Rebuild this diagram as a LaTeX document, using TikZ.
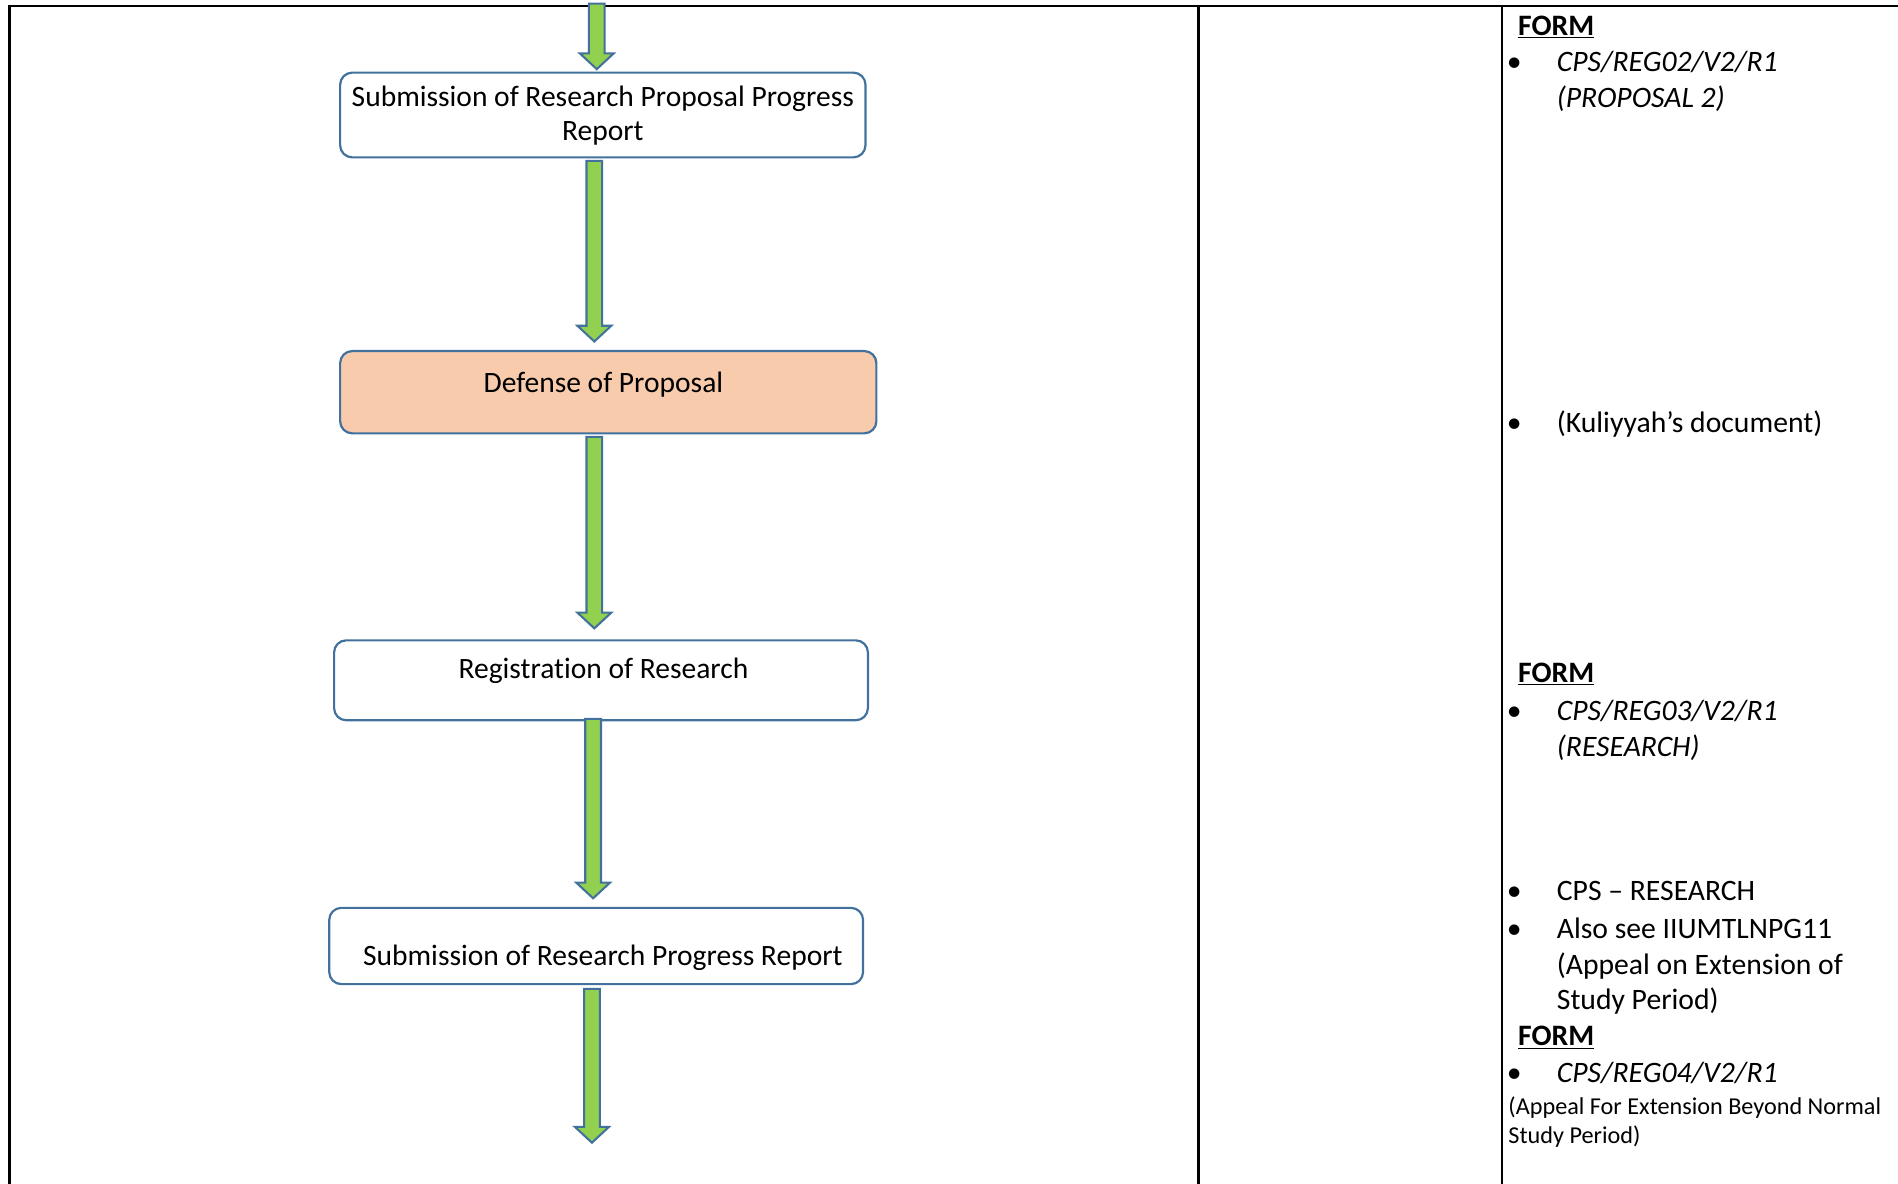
\documentclass[tikz,border=0pt]{standalone}
\usepackage{fontspec}
\setmainfont{Carlito}[Ligatures={NoCommon}]
\usetikzlibrary{calc}
\definecolor{boxblue}{HTML}{41719C}
\definecolor{arrowgreen}{HTML}{92D050}
\definecolor{peach}{HTML}{F8CBAD}
\tikzset{
  tableline/.style={line width=2pt, black},
  flowbox/.style={draw=boxblue, line width=1.8pt, rounded corners=10pt, inner sep=0pt},
  boxtext/.style={font=\fontsize{24.4}{28}\selectfont, align=center, inner sep=0pt},
  coltext/.style={font=\fontsize{24.5}{30}\selectfont, anchor=base west, inner sep=0pt},
  smalltext/.style={font=\fontsize{20}{24}\selectfont, anchor=base west, inner sep=0pt},
  bul/.style={font=\fontsize{24.5}{30}\selectfont, anchor=base, inner sep=0pt},
  arrowbody/.style={draw=boxblue, fill=arrowgreen, line width=1.7pt, line join=miter}
}
\newcommand{\flowarrow}[3]{%
  \path[arrowbody] let \p1=#2, \p2=#3 in
    (#1pt-6.5pt,\y1) -- (#1pt+6.5pt,\y1) -- (#1pt+6.5pt,\y2+13pt) -- (#1pt+14pt,\y2+13pt)
    -- (#1pt,\y2) -- (#1pt-14pt,\y2+13pt) -- (#1pt-6.5pt,\y2+13pt) -- cycle;}
\begin{document}
\begin{tikzpicture}[x=1pt,y=-1pt]
\useasboundingbox (0,0) rectangle (1568,978);
% table lines
\draw[tableline] (8,978) -- (8,5) -- (1568,5);
\draw[tableline] (990,5) -- (990,978);
\draw[tableline] (1241,5) -- (1241,978);

% boxes
\node[flowbox, minimum width=434pt, minimum height=70pt] (b1) at (498,95) {};
\node[boxtext] (t1) at (498,95.5) {Submission of Research Proposal Progress\\Report};
\node[flowbox, fill=peach, minimum width=443pt, minimum height=68pt] (b2) at (502.5,324) {};
\node[boxtext] (t2) at (498.5,317.5) {Defense of Proposal};
\node[flowbox, minimum width=441pt, minimum height=66pt] (b3) at (496.5,562) {};
\node[boxtext] (t3) at (498.5,554.5) {Registration of Research};
\node[flowbox, minimum width=441pt, minimum height=63pt] (b4) at (492.5,781.5) {};
\node[boxtext] (t4) at (498,791.5) {Submission of Research Progress Report};

% arrows
\coordinate (a0) at (493,3);
\coordinate (a5) at (489,944);
\flowarrow{493}{(a0)}{([yshift=2pt]b1.north)}
\flowarrow{491}{([yshift=-2pt]b1.south)}{([yshift=7pt]b2.north)}
\flowarrow{491}{([yshift=-2pt]b2.south)}{([yshift=9pt]b3.north)}
\flowarrow{490}{([yshift=2pt]b3.south)}{([yshift=7pt]b4.north)}
\flowarrow{489}{([yshift=-3pt]b4.south)}{(a5)}

% right column
\node[coltext] (f1) at (1254,29) {\textbf{\underline{FORM}}};
\node[bul] (u1) at (1251,59) {•};
\node[coltext] (r1) at (1286,59) {\textit{CPS/REG02/V2/R1}};
\node[coltext] (r2) at (1286,89) {\textit{(PROPOSAL 2)}};
\node[bul] (u2) at (1251,357) {•};
\node[coltext] (r3) at (1286,357) {(Kuliyyah’s document)};
\node[coltext] (f2) at (1254,564) {\textbf{\underline{FORM}}};
\node[bul] (u3) at (1251,595) {•};
\node[coltext] (r4) at (1286,595) {\textit{CPS/REG03/V2/R1}};
\node[coltext] (r5) at (1286,625) {\textit{(RESEARCH)}};
\node[bul] (u4) at (1251,744) {•};
\node[coltext] (r6) at (1286,744) {CPS – RESEARCH};
\node[bul] (u5) at (1251,775) {•};
\node[coltext] (r7) at (1286,775) {Also see IIUMTLNPG11};
\node[coltext] (r8) at (1286,805) {(Appeal on Extension of};
\node[coltext] (r9) at (1286,834) {Study Period)};
\node[coltext] (f3) at (1254,864) {\textbf{\underline{FORM}}};
\node[bul] (u6) at (1251,894) {•};
\node[coltext] (r10) at (1286,894) {\textit{CPS/REG04/V2/R1}};
\node[smalltext] (s1) at (1246,921) {(Appeal For Extension Beyond Normal};
\node[smalltext] (s2) at (1246,945) {Study Period)};
\end{tikzpicture}
\end{document}
